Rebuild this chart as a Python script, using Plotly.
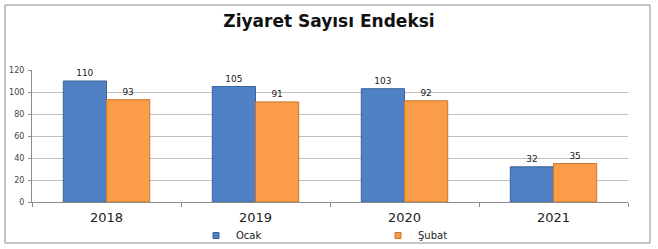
import plotly.graph_objects as go

years = ["2018", "2019", "2020", "2021"]
ocak = [110, 105, 103, 32]
subat = [93, 91, 92, 35]
series_names = ["Ocak", "Şubat"]
y_ticks = [0, 20, 40, 60, 80, 100, 120]

colors = ["#4f81c4", "#fb9c48"]
edges = ["#3a6399", "#c8762e"]

fig = go.Figure()
for name, vals, c, e in zip(series_names, [ocak, subat], colors, edges):
    fig.add_trace(go.Bar(
        x=years, y=vals, name=name, showlegend=False,
        marker=dict(color=c, line=dict(color=e, width=1)),
        text=vals, textposition="outside", cliponaxis=False,
        textfont=dict(family="DejaVu Sans", size=9, color="#222222"),
    ))
# legend proxies (small square swatches like the original)
for name, c, e in zip(series_names, colors, edges):
    fig.add_trace(go.Scatter(
        x=[None], y=[None], mode="markers", name=name,
        marker=dict(symbol="square", size=6, color=c, line=dict(color=e, width=1)),
    ))

plot_l, plot_r, plot_t, plot_b = 32, 628, 70, 202
W, H = 658, 249
pw, ph = plot_r - plot_l, plot_b - plot_t

def px_x(p):
    return (p - plot_l) / pw

def px_y(p):
    return (plot_b - p) / ph

fig.update_layout(
    width=W, height=H,
    margin=dict(l=plot_l, r=W - plot_r, t=plot_t, b=H - plot_b, pad=0, autoexpand=False),
    paper_bgcolor="white", plot_bgcolor="white",
    barmode="group", bargap=0.42, bargroupgap=0,
    title=dict(text="<b>Ziyaret Sayısı Endeksi</b>", x=0.5, xanchor="center",
               y=1 - 21 / H, yanchor="middle",
               font=dict(family="DejaVu Sans", size=17, color="#111111")),
    font=dict(family="DejaVu Sans"),
    xaxis=dict(type="category", tickson="boundaries", ticks="outside", ticklen=4,
               tickcolor="#8c8c8c", showline=True, linecolor="#8c8c8c", linewidth=1,
               showgrid=False, ticklabelstandoff=3,
               tickfont=dict(family="DejaVu Sans", size=13, color="#222222")),
    yaxis=dict(range=[0, 120], tickvals=y_ticks, ticks="outside", ticklen=3,
               tickcolor="#8c8c8c", showline=True, linecolor="#8c8c8c", linewidth=1,
               showgrid=True, gridcolor="#c0c0c0", gridwidth=1, zeroline=False,
               ticklabelstandoff=2,
               tickfont=dict(family="DejaVu Sans", size=8, color="#444444")),
    legend=dict(orientation="h", x=px_x(196), xanchor="left", y=px_y(221), yanchor="top",
                entrywidth=137, entrywidthmode="pixels",
                font=dict(family="DejaVu Sans", size=10, color="#222222"),
                itemwidth=30, bgcolor="rgba(0,0,0,0)"),
    shapes=[dict(type="rect", xref="paper", yref="paper",
                 x0=px_x(5), x1=px_x(650), y0=px_y(243), y1=px_y(5),
                 line=dict(color="#8c8c8c", width=1), layer="below")],
)

fig.write_html("out.html")
